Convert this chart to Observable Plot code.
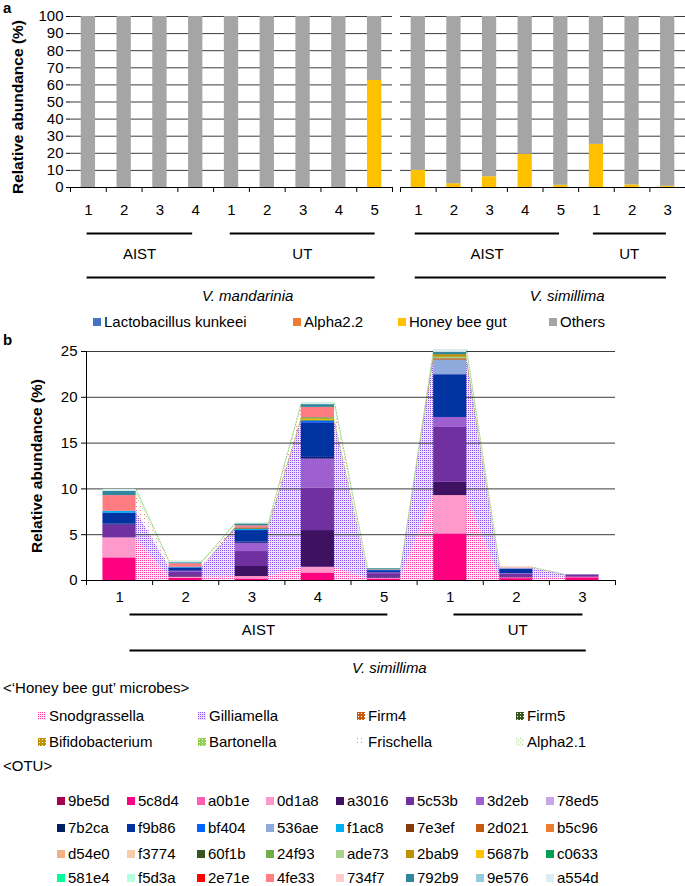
<!DOCTYPE html>
<html><head><meta charset="utf-8">
<script src="https://cdn.jsdelivr.net/npm/d3@7"></script>
<script src="https://cdn.jsdelivr.net/npm/@observablehq/plot@0.6"></script>
<style>
body{margin:0;background:#fff;font-family:"Liberation Sans",Arial,sans-serif;color:#000;}
#root{position:relative;width:685px;height:886px;overflow:hidden;background:#fff;}
.item{position:absolute;display:flex;align-items:center;height:14px;line-height:14px;font-size:15px;white-space:nowrap;}
.sw{display:inline-block;width:8px;height:8px;margin-right:3px;}
.lbl{position:absolute;font-size:15px;line-height:18px;white-space:nowrap;}
</style></head><body><div id="root"></div>
<script>
// ---------- DATA ----------
const yTitle = "Relative abundance (%)";
const yTicksA = [0,10,20,30,40,50,60,70,80,90,100];
const yTicksB = [0,5,10,15,20,25];

// Panel a
const seriesA = ["Lactobacillus kunkeei","Alpha2.2","Honey bee gut","Others"];
const seriesAColors = ["#4472C4","#ED7D31","#FFC000","#A5A5A5"];
const mandCats = ["1","2","3","4","1","2","3","4","5"];
const mandLacto   = [0,0,0,0,0,0,0,0,0];
const mandAlpha22 = [0,0,0,0,0,0,0,0,0];
const mandHoney   = [0,0,0,0,0,0,0,0,62.6];
const mandOthers  = [100,100,100,100,100,100,100,100,37.4];
const simCats = ["1","2","3","4","5","1","2","3"];
const simLacto   = [0,0,0,0,0,0,0,0];
const simAlpha22 = [0,0,0,0,0,0,0,0];
const simHoney   = [10.0,2.2,6.3,19.4,1.3,25.2,1.5,0.7];
const simOthers  = [90.0,97.8,93.7,80.6,98.7,74.8,98.5,99.3];
// group annotations (category-index units)
const mandGroups  = [{label:"AIST",start:-0.05,end:2.9,labelX:1.43},{label:"UT",start:3.95,end:8,labelX:5.98}];
const mandSpecies = [{label:"V. mandarinia",start:-0.05,end:8,labelX:4.45}];
const simGroups   = [{label:"AIST",start:-0.1,end:3.95,labelX:1.93},{label:"UT",start:4.9,end:6.95,labelX:5.92}];
const simSpecies  = [{label:"V. simillima",start:-0.1,end:6.95,labelX:4.18}];

// Panel b
const bCats = ["1","2","3","4","5","1","2","3"];
const genera = ["Snodgrassella","Gilliamella","Firm4","Firm5","Bifidobacterium","Bartonella","Frischella","Alpha2.1"];
const otuNames = ["9be5d","5c8d4","a0b1e","0d1a8","a3016","5c53b","3d2eb","78ed5",
                  "7b2ca","f9b86","bf404","536ae","f1ac8","7e3ef","2d021","b5c96",
                  "d54e0","f3774","60f1b","24f93","ade73","2bab9","5687b","c0633",
                  "581e4","f5d3a","2e71e","4fe33","734f7","792b9","9e576","a554d"];
const otuColors = ["#A50050","#FF0080","#FF5FAF","#FF99CC","#3F1261","#7030A0","#9E5FCF","#C9A6EA",
                   "#002060","#0033A0","#0066FF","#8EA9DB","#00B0F0","#843C0C","#C55A11","#ED7D31",
                   "#F4B183","#F8CBAD","#375623","#70AD47","#A9D18E","#BF9000","#FFC000","#00A050",
                   "#00FF99","#B3FFE0","#FF0000","#FF7C80","#FFCCCC","#31859C","#93CDDD","#DAEEF3"];
const otuGenus = [0,0,0,0,1,1,1,1, 1,1,1,1,1,2,2,2, 2,2,3,3,3,4,4,5, 5,5,6,6,6,7,7,7];
const aist1 = [0,2.47,0,2.18, 0,1.42,0,0, 0.08,1.19,0,0, 0.22,0,0,0, 0,0,0,0, 0,0,0,0, 0,0,0,1.71, 0,0.47,0,0.22];
const aist2 = [0,0.22,0,0.15, 0.15,0.35,0.15,0, 0.05,0.3,0,0, 0.08,0,0,0, 0,0,0,0, 0,0,0,0, 0,0,0,0.38, 0,0.1,0.05,0.12];
const aist3 = [0,0.15,0,0.28, 1.1,1.63,0.91,0, 0.13,1.25,0,0, 0.15,0,0.06,0, 0,0,0,0.06, 0,0,0,0, 0,0,0,0.25, 0,0.2,0,0.07];
const aist4 = [0,0.8,0,0.65, 4.0,4.65,3.17,0, 0.18,3.75,0.2,0, 0,0,0,0, 0,0,0,0.1, 0,0,0.15,0.1, 0,0,0,1.15, 0,0.3,0,0.18];
const aist5 = [0,0.15,0,0.1, 0.15,0.35,0.1,0, 0,0.22,0,0, 0.05,0,0,0, 0,0,0,0, 0,0,0,0, 0,0,0,0.05, 0,0.1,0,0];
const ut1   = [0,5.09,0,4.18, 1.45,6.0,1.08,0, 0,4.66,0,1.61, 0,0,0.13,0, 0,0,0,0, 0.2,0.25,0,0, 0,0,0,0, 0,0.25,0,0.3];
const ut2   = [0,0.2,0.1,0, 0.1,0.25,0.1,0, 0,0.45,0,0.1, 0,0,0,0, 0,0,0,0, 0,0,0,0, 0,0,0,0.05, 0.1,0,0,0];
const ut3   = [0,0.3,0,0.07, 0.05,0.15,0.05,0, 0,0,0,0, 0,0,0,0, 0,0,0,0, 0,0,0,0, 0,0,0,0, 0,0,0,0];
const bSamples = [aist1,aist2,aist3,aist4,aist5,ut1,ut2,ut3];
const bGroups  = [{label:"AIST",start:0.15,end:4.05,labelX:2.1},{label:"UT",start:5.05,end:7.0,labelX:6.02}];
const bSpecies = [{label:"V. simillima",start:0.15,end:7.05,labelX:4.08}];

// ---------- STYLE ----------
const FONT = '"Liberation Sans", Arial, sans-serif';
const GRID = "#3c3c3c";
const root = document.getElementById("root");

const defs = `<svg width="0" height="0" style="position:absolute;left:0;top:0"><defs>
<pattern id="pat0" width="2" height="2" patternUnits="userSpaceOnUse"><rect width="2" height="2" fill="#ffe8f4"/><rect width="1" height="1" fill="#ff3d9e"/></pattern>
<pattern id="pat1" width="2" height="2" patternUnits="userSpaceOnUse"><rect width="2" height="2" fill="#ece2ff"/><rect width="1" height="1" fill="#8a55ea"/></pattern>
<pattern id="pat2" width="3" height="3" patternUnits="userSpaceOnUse"><rect width="3" height="3" fill="#C55A11"/><rect x="1" y="1" width="1" height="1" fill="#fff"/></pattern>
<pattern id="pat3" width="3" height="3" patternUnits="userSpaceOnUse"><rect width="3" height="3" fill="#375623"/><rect x="1" y="1" width="1" height="1" fill="#fff"/></pattern>
<pattern id="pat4" width="3" height="3" patternUnits="userSpaceOnUse"><rect width="3" height="3" fill="#BF9000"/><rect x="1" y="1" width="1" height="1" fill="#fff"/></pattern>
<pattern id="pat5" width="3" height="3" patternUnits="userSpaceOnUse"><rect width="3" height="3" fill="#92D050"/><rect x="1" y="1" width="1" height="1" fill="#fff"/></pattern>
<pattern id="pat6" width="4" height="4" patternUnits="userSpaceOnUse"><rect width="1" height="1" fill="#ff7090"/></pattern>
<pattern id="pat7" width="4" height="4" patternUnits="userSpaceOnUse"><rect width="4" height="4" fill="#f4fbf0"/><rect width="1" height="1" fill="#a8d890"/><rect x="2" y="2" width="1" height="1" fill="#a8d890"/></pattern>
</defs></svg>`;
root.insertAdjacentHTML("beforeend", defs);

function place(el, left, top) { el.style.position = "absolute"; el.style.left = left + "px"; el.style.top = top + "px"; root.appendChild(el); }

// ---------- PANEL A ----------
function panelA(cats, seriesVals, groups, species, {width, marginLeft, showY}) {
  const n = cats.length;
  const rows = [];
  for (let i = 0; i < n; i++) {
    let c = 0;
    seriesVals.forEach((arr, s) => { const v = arr[i]; if (v > 0) rows.push({i, y1: c, y2: c + v, fill: seriesAColors[s]}); c += v; });
  }
  const catData = cats.map((c, i) => ({c, i}));
  const bounds = d3.range(n + 1).map(i => i - 0.5);
  const marks = [
    Plot.ruleY(yTicksA.filter(t => t > 0), {stroke: GRID, strokeWidth: 1}),
    Plot.rect(rows, {x1: d => d.i - 0.2, x2: d => d.i + 0.2, y1: "y1", y2: "y2", fill: "fill"}),
    Plot.ruleY([0], {stroke: "#000", strokeWidth: 1}),
    Plot.axisX(bounds, {tickSize: 5, tickFormat: () => "", stroke: "#000"}),
    Plot.text(catData, {x: "i", y: () => 0, dy: 23, text: "c", fontSize: 15}),
    Plot.link(groups, {x1: "start", x2: "end", y1: () => 0, y2: () => 0, dy: 46, stroke: "#000", strokeWidth: 2}),
    Plot.text(groups, {x: "labelX", y: () => 0, dy: 67, text: "label", fontSize: 15}),
    Plot.link(species, {x1: "start", x2: "end", y1: () => 0, y2: () => 0, dy: 90, stroke: "#000", strokeWidth: 2}),
    Plot.text(species, {x: "labelX", y: () => 0, dy: 109, text: "label", fontSize: 15, fontStyle: "italic"})
  ];
  if (showY) {
    marks.push(Plot.axisY(yTicksA, {tickSize: 4, tickPadding: 3, fontSize: 15, label: null}));
    marks.push(Plot.text([yTitle], {frameAnchor: "left", textAnchor: "middle", rotate: -90, dx: -52, dy: 5, fontWeight: "bold", fontSize: 15.5}));
  }
  return Plot.plot({
    width, height: 310, marginTop: 16, marginBottom: 123, marginLeft, marginRight: 0,
    x: {domain: [-0.5, n - 0.5], axis: null, label: null},
    y: {domain: [0, 100], axis: null, label: null},
    color: {type: "identity"},
    style: {fontFamily: FONT, fontSize: "15px", color: "#000", background: "transparent", overflow: "visible"},
    marks
  });
}
place(panelA(mandCats, [mandLacto, mandAlpha22, mandHoney, mandOthers], mandGroups, mandSpecies, {width: 392, marginLeft: 70, showY: true}), 0, 0);
place(panelA(simCats, [simLacto, simAlpha22, simHoney, simOthers], simGroups, simSpecies, {width: 285, marginLeft: 0, showY: false}), 400, 0);

const la = document.createElement("div"); la.textContent = "a"; la.style.cssText = "font-weight:bold;font-size:15px;line-height:15px"; place(la, 3, 0);
const lb = document.createElement("div"); lb.textContent = "b"; lb.style.cssText = "font-weight:bold;font-size:15px;line-height:15px"; place(lb, 3, 332);

// legend a
const legAX = [93, 293, 398, 549];
seriesA.forEach((s, k) => {
  const it = document.createElement("div"); it.className = "item";
  it.innerHTML = `<span class="sw" style="background:${seriesAColors[k]}"></span>${s}`;
  place(it, legAX[k], 315);
});

// ---------- PANEL B ----------
const bRows = [];
bSamples.forEach((arr, i) => {
  let c = 0;
  arr.forEach((v, k) => { if (v > 0) bRows.push({i, y1: c, y2: c + v, fill: otuColors[k]}); c += v; });
});
const genusSums = bSamples.map(arr => genera.map((g, gi) => d3.sum(arr.filter((v, k) => otuGenus[k] === gi))));
const areaRows = [];
genera.forEach((g, gi) => {
  bSamples.forEach((arr, i) => {
    const base = d3.sum(genusSums[i].slice(0, gi));
    const top = base + genusSums[i][gi];
    areaRows.push({g: gi, x: i - 0.25, y1: base, y2: top});
    areaRows.push({g: gi, x: i + 0.25, y1: base, y2: top});
  });
});
const topRows = areaRows.filter(d => d.g === genera.length - 1);
const bCatData = bCats.map((c, i) => ({c, i}));
const bBounds = d3.range(bCats.length + 1).map(i => i - 0.5);

const bPlot = Plot.plot({
  width: 685, height: 350, marginTop: 21, marginBottom: 100, marginLeft: 86, marginRight: 70,
  x: {domain: [-0.5, bCats.length - 0.5], axis: null, label: null},
  y: {domain: [0, 25], axis: null, label: null},
  color: {type: "identity"},
  style: {fontFamily: FONT, fontSize: "15px", color: "#000", background: "transparent", overflow: "visible"},
  marks: [
    ...genera.map((g, gi) => Plot.areaY(areaRows.filter(d => d.g === gi), {x: "x", y1: "y1", y2: "y2", fill: `url(#pat${gi})`, curve: "linear"})),
    Plot.line(topRows, {x: "x", y: "y2", stroke: "#9fd08a", strokeWidth: 1, strokeDasharray: "1.5,1.5"}),
    Plot.ruleY(yTicksB.filter(t => t > 0), {stroke: GRID, strokeWidth: 1}),
    Plot.rect(bRows, {x1: d => d.i - 0.25, x2: d => d.i + 0.25, y1: "y1", y2: "y2", fill: "fill"}),
    Plot.ruleY([0], {stroke: "#000", strokeWidth: 1}),
    Plot.ruleX([-0.5], {stroke: "#000", strokeWidth: 1}),
    Plot.axisY(yTicksB, {tickSize: 5, tickPadding: 4, fontSize: 15, label: null}),
    Plot.axisX(bBounds, {tickSize: 5, tickFormat: () => "", stroke: "#000"}),
    Plot.text(bCatData, {x: "i", y: () => 0, dy: 17, text: "c", fontSize: 15}),
    Plot.link(bGroups, {x1: "start", x2: "end", y1: () => 0, y2: () => 0, dy: 34, stroke: "#000", strokeWidth: 2}),
    Plot.text(bGroups, {x: "labelX", y: () => 0, dy: 50, text: "label", fontSize: 15}),
    Plot.link(bSpecies, {x1: "start", x2: "end", y1: () => 0, y2: () => 0, dy: 70, stroke: "#000", strokeWidth: 2}),
    Plot.text(bSpecies, {x: "labelX", y: () => 0, dy: 88, text: "label", fontSize: 15, fontStyle: "italic"}),
    Plot.text([yTitle], {frameAnchor: "left", textAnchor: "middle", rotate: -90, dx: -49, fontWeight: "bold", fontSize: 15.5})
  ]
});
place(bPlot, 0, 330);

// legend b
const hbTitle = document.createElement("div"); hbTitle.className = "lbl"; hbTitle.textContent = "<\u2018Honey bee gut\u2019 microbes>"; place(hbTitle, 3, 679);
const genX = [38, 198, 357, 516];
const genY = [716, 742];
genera.forEach((g, gi) => {
  const it = document.createElement("div"); it.className = "item";
  it.innerHTML = `<svg width="8" height="8" style="margin-right:3px"><rect width="8" height="8" fill="url(#pat${gi})"/></svg>${g}`;
  place(it, genX[gi % 4], genY[Math.floor(gi / 4)] - 7);
});
const otuTitle = document.createElement("div"); otuTitle.className = "lbl"; otuTitle.textContent = "<OTU>"; place(otuTitle, 3, 757);
const otuX = [57, 127, 197, 266, 336, 406, 476, 546];
const otuY = [801, 828, 854, 878];
otuNames.forEach((o, k) => {
  const it = document.createElement("div"); it.className = "item";
  it.innerHTML = `<span class="sw" style="background:${otuColors[k]}"></span>${o}`;
  place(it, otuX[k % 8], otuY[Math.floor(k / 8)] - 7);
});
</script></body></html>
